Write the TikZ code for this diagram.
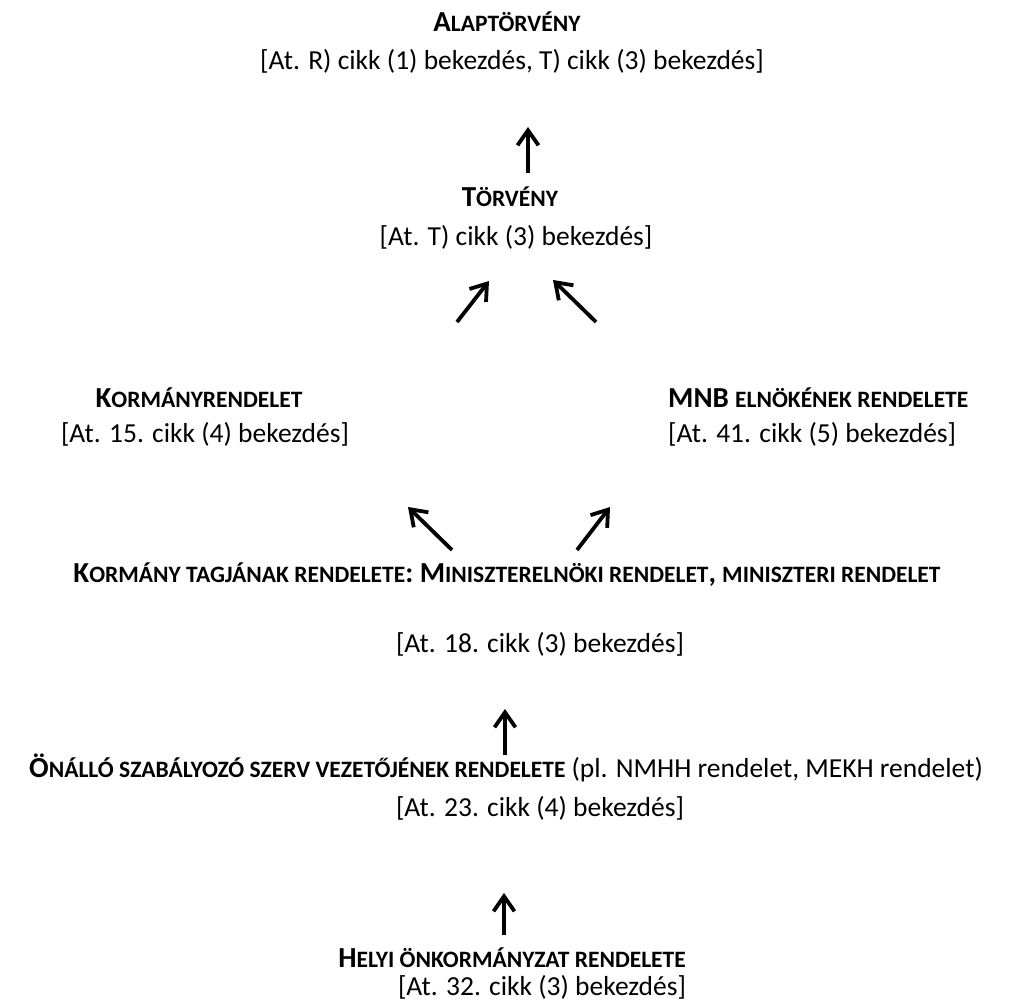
\documentclass[tikz,border=0pt]{standalone}
\usepackage{fontspec}
\setmainfont{Carlito}
\usetikzlibrary{arrows.meta}
\newcommand\lawsize{\fontsize{27.5}{33}\selectfont}
\newcommand\lawbig[1]{{\fontsize{29}{35}\selectfont #1}}
\newcommand\lawsc[1]{{\fontsize{23.5}{28}\selectfont #1}}
\tikzset{
  lawtext/.style={anchor=base, inner sep=0pt, font=\lawsize},
  lawarrow/.style={line width=3.8pt, -{Straight Barb[length=15pt, width=21pt]}}
}

\begin{document}
\begin{tikzpicture}[x=1pt, y=-1pt]
    \useasboundingbox (0,0) rectangle (1009,1008);
    \node[lawtext] (alap) at (507, 32) {\textbf{\lawbig{A}\lawsc{LAPTÖRVÉNY}}};
    \node[lawtext] (alapref) at (512, 70) {[At. R) cikk (1) bekezdés, T) cikk (3) bekezdés]};
    \node[lawtext] (torv) at (510, 207) {\textbf{\lawbig{T}\lawsc{ÖRVÉNY}}};
    \node[lawtext] (torvref) at (516, 246) {[At. T) cikk (3) bekezdés]};
    \node[lawtext] (korm) at (199, 407) {\textbf{\lawbig{K}\lawsc{ORMÁNYRENDELET}}};
    \node[lawtext] (kormref) at (205, 442) {[At. 15. cikk (4) bekezdés]};
    \node[lawtext, anchor=base west] (mnb) at (668, 407) {\textbf{\lawbig{MNB} \lawsc{ELNÖKÉNEK RENDELETE}}};
    \node[lawtext, anchor=base west] (mnbref) at (668, 442) {[At. 41. cikk (5) bekezdés]};
    \node[lawtext] (tag) at (507, 582) {\textbf{\lawbig{K}\lawsc{ORMÁNY TAGJÁNAK RENDELETE}\lawbig{: M}\lawsc{INISZTERELNÖKI RENDELET}\lawbig{,} \lawsc{MINISZTERI RENDELET}}};
    \node[lawtext] (tagref) at (540, 652) {[At. 18. cikk (3) bekezdés]};
    \node[lawtext] (onallo) at (506, 777) {\textbf{\lawbig{Ö}\lawsc{NÁLLÓ SZABÁLYOZÓ SZERV VEZETŐJÉNEK RENDELETE}} (pl. NMHH rendelet, MEKH rendelet)};
    \node[lawtext] (onalloref) at (540, 816) {[At. 23. cikk (4) bekezdés]};
    \node[lawtext] (helyi) at (512, 967) {\textbf{\lawbig{H}\lawsc{ELYI ÖNKORMÁNYZAT RENDELETE}}};
    \node[lawtext] (helyiref) at (542, 995) {[At. 32. cikk (3) bekezdés]};
    \coordinate (up1s) at (528, 173);
    \coordinate (up1e) at (528, 127);
    \coordinate (ne1s) at (457, 322);
    \coordinate (ne1e) at (489, 281);
    \coordinate (nw1s) at (596, 322);
    \coordinate (nw1e) at (553, 280);
    \coordinate (nw2s) at (452, 550);
    \coordinate (nw2e) at (408, 507);
    \coordinate (ne2s) at (577, 550);
    \coordinate (ne2e) at (610, 507);
    \coordinate (up2s) at (505, 755);
    \coordinate (up2e) at (505, 709);
    \coordinate (up3s) at (504, 935);
    \coordinate (up3e) at (504, 893);
    \draw[lawarrow] (up1s) -- (up1e);
    \draw[lawarrow] (ne1s) -- (ne1e);
    \draw[lawarrow] (nw1s) -- (nw1e);
    \draw[lawarrow] (nw2s) -- (nw2e);
    \draw[lawarrow] (ne2s) -- (ne2e);
    \draw[lawarrow] (up2s) -- (up2e);
    \draw[lawarrow] (up3s) -- (up3e);
\end{tikzpicture}
\end{document}
